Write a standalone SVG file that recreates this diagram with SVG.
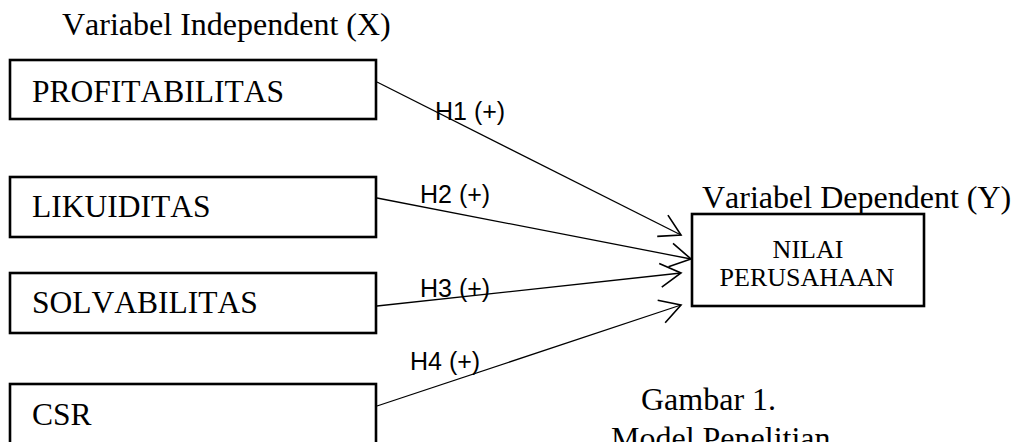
<svg xmlns="http://www.w3.org/2000/svg" width="1014" height="442" viewBox="0 0 1014 442">
<style>
.box{fill:#fff;stroke:#000;stroke-width:2.6}
.serif{font-family:"Liberation Serif","Times New Roman",serif;fill:#000;font-kerning:none}
.big{font-size:31.5px}
.hdr{font-size:32px}
.mid{font-size:26px}
.hl{font-family:"Liberation Sans",Arial,sans-serif;font-size:25px;fill:#000}
.conn{stroke:#000;stroke-width:1.3;fill:none}
</style>
<defs>
<marker id="arr" markerUnits="userSpaceOnUse" markerWidth="30" markerHeight="30" refX="0" refY="0" viewBox="-20 -12 22 24" orient="auto" overflow="visible">
<path d="M-16.5,-9.5 L0,0 L-16.5,9.5" fill="none" stroke="#000" stroke-width="1.3"/>
</marker>
</defs>
<rect width="1014" height="442" fill="#fff"/>
<text class="serif hdr" x="62" y="35">Variabel Independent (X)</text>
<g id="connectors">
<line class="conn" x1="377" y1="82" x2="681" y2="235" marker-end="url(#arr)"/>
<line class="conn" x1="377" y1="198" x2="691" y2="259" marker-end="url(#arr)"/>
<line class="conn" x1="377" y1="306" x2="681" y2="273" marker-end="url(#arr)"/>
<line class="conn" x1="377" y1="406" x2="681" y2="305" marker-end="url(#arr)"/>
<text class="hl" x="435" y="120">H1 (+)</text>
<text class="hl" x="420" y="203">H2 (+)</text>
<text class="hl" x="420" y="297">H3 (+)</text>
<text class="hl" x="410" y="370">H4 (+)</text>
</g>
<g id="profitabilitas">
<rect class="box" x="10" y="60" width="366" height="59"/>
<text class="serif big" x="32" y="102">PROFITABILITAS</text>
</g>
<g id="likuiditas">
<rect class="box" x="10" y="177" width="366" height="60"/>
<text class="serif big" x="32" y="217">LIKUIDITAS</text>
</g>
<g id="solvabilitas">
<rect class="box" x="10" y="273" width="366" height="60"/>
<text class="serif big" x="32" y="313">SOLVABILITAS</text>
</g>
<g id="csr">
<rect class="box" x="10" y="384" width="366" height="60"/>
<text class="serif big" x="32" y="425">CSR</text>
</g>
<g id="nilai">
<rect class="box" x="692" y="214" width="232" height="92"/>
<text class="serif mid" x="808" y="258" text-anchor="middle">NILAI</text>
<text class="serif mid" x="807" y="286" text-anchor="middle">PERUSAHAAN</text>
</g>
<text class="serif hdr" x="702" y="208">Variabel Dependent (Y)</text>
<text class="serif hdr" x="641" y="410">Gambar 1.</text>
<text class="serif hdr" x="611" y="449">Model Penelitian</text>
</svg>
